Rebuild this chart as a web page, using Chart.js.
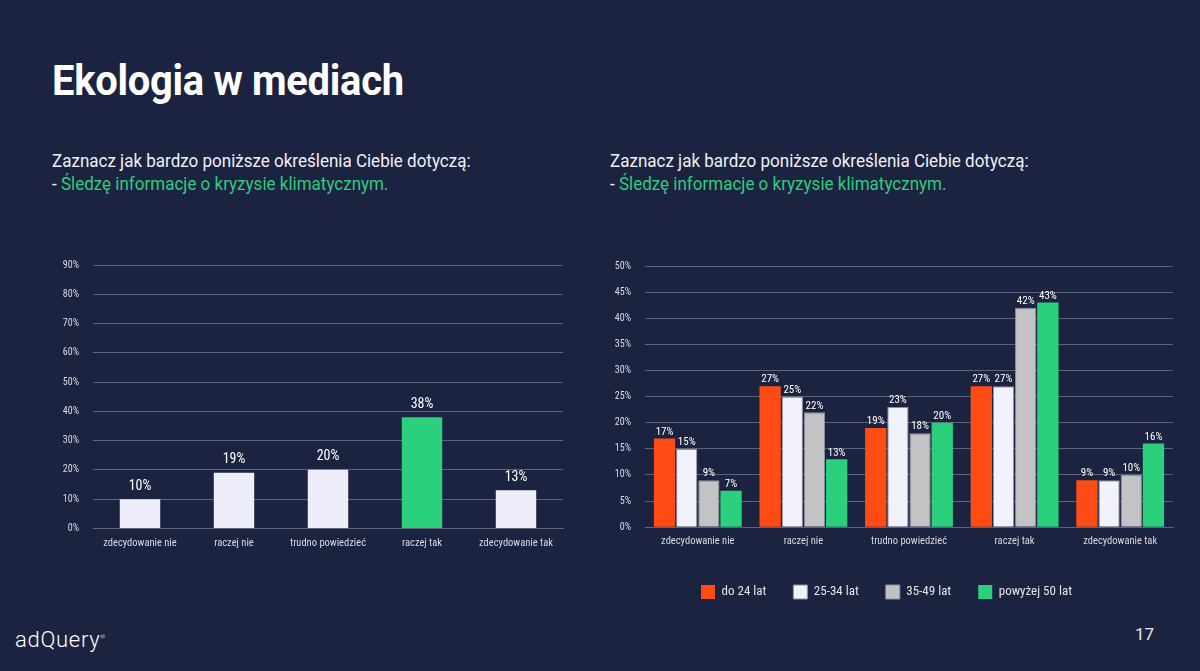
<!DOCTYPE html>
<html>
<head>
<meta charset="utf-8">
<script src="https://cdn.jsdelivr.net/npm/chart.js@4"></script>
<style>
  html, body { margin: 0; padding: 0; }
  body { width: 1200px; height: 671px; background: #1c2340; overflow: hidden; position: relative; font-family: "Roboto Condensed", "Liberation Sans Narrow", Roboto, sans-serif; color: #fff; }
  .title { position: absolute; left: 52px; top: 56px; font-family: Roboto, sans-serif; font-weight: 700; font-size: 42px; transform: scaleX(0.95); transform-origin: left top; letter-spacing: -0.3px; }
  .sub { position: absolute; top: 149px; font-family: Roboto, sans-serif; font-size: 18px; line-height: 23px; transform: scaleX(0.945); transform-origin: left top; color: #eef0f6; white-space: nowrap; }
  .sub .g { color: #2fcb7e; }
  .box { position: absolute; }
  .logo { position: absolute; left: 15px; top: 627px; font-family: Roboto, sans-serif; font-weight: 300; font-size: 22px; letter-spacing: 0.7px; }
  .logo sup { font-size: 6px; }
  .page { position: absolute; left: 1135px; top: 624px; font-family: Roboto, sans-serif; font-size: 17px; color: #e8e8ee; }
</style>
</head>
<body>
<div class="title">Ekologia w mediach</div>
<div class="sub" style="left:52px">Zaznacz jak bardzo poniższe określenia Ciebie dotyczą:<br>- <span class="g">Śledzę informacje o kryzysie klimatycznym.</span></div>
<div class="sub" style="left:610px">Zaznacz jak bardzo poniższe określenia Ciebie dotyczą:<br>- <span class="g">Śledzę informacje o kryzysie klimatycznym.</span></div>

<div class="box" style="left:40px; top:245px; width:535px; height:314px;"><canvas id="left"></canvas></div>
<div class="box" style="left:600px; top:246px; width:585px; height:363px;"><canvas id="right"></canvas></div>

<div class="logo">adQuery<sup>®</sup></div>
<div class="page">17</div>

<script>
const categories = ['zdecydowanie nie', 'raczej nie', 'trudno powiedzieć', 'raczej tak', 'zdecydowanie tak'];
const totalValues = [10, 19, 20, 38, 13];
const ageGroups = ['do 24 lat', '25-34 lat', '35-49 lat', 'powyżej 50 lat'];
const age24 = [17, 27, 19, 27, 9];
const age25to34 = [15, 25, 23, 27, 9];
const age35to49 = [9, 22, 18, 42, 10];
const age50plus = [7, 13, 20, 43, 16];
const leftTicks = [0, 10, 20, 30, 40, 50, 60, 70, 80, 90];
const rightTicks = [0, 5, 10, 15, 20, 25, 30, 35, 40, 45, 50];

const FONT = '"Roboto Condensed", "Liberation Sans Narrow", Roboto, sans-serif';

// draws the value above each bar
const valueLabels = {
    id: 'valueLabels',
    afterDatasetsDraw(chart, args, opts) {
        const ctx = chart.ctx;
        ctx.save();
        ctx.fillStyle = '#ffffff';
        ctx.font = opts.size + 'px ' + FONT;
        ctx.textAlign = 'center';
        ctx.textBaseline = 'bottom';
        chart.data.datasets.forEach((ds, i) => {
            chart.getDatasetMeta(i).data.forEach((bar, j) => {
                ctx.fillText(ds.data[j] + '%', bar.x, bar.y - opts.gap);
            });
        });
        ctx.restore();
    }
};

function yAxis(max, ticks, width) {
    return {
        min: 0, max: max,
        afterBuildTicks: axis => { axis.ticks = ticks.map(v => ({ value: v })); },
        afterFit: axis => { axis.width = width; },
        border: { display: false },
        grid: { color: '#5d6378', lineWidth: 1, drawTicks: false },
        ticks: { color: '#d8dae2', font: { family: FONT, size: 10 }, padding: 14, callback: v => v + '%' }
    };
}

function xAxis(pad) {
    return {
        border: { display: true, color: '#5d6378' },
        grid: { display: false, drawTicks: false },
        ticks: { color: '#d8dae2', font: { family: FONT, size: 10.5 }, padding: pad, maxRotation: 0 }
    };
}

new Chart(document.getElementById('left'), {
    type: 'bar',
    data: {
        labels: categories,
        datasets: [{
            data: totalValues,
            backgroundColor: totalValues.map((v, i) => i === 3 ? '#2bd07d' : '#eeeefa'),
            barPercentage: 0.43,
            categoryPercentage: 1
        }]
    },
    options: {
        responsive: true,
        maintainAspectRatio: false,
        animation: false,
        layout: { padding: { top: 2, right: 12, bottom: 0, left: 0 } },
        scales: { x: xAxis(9), y: yAxis(90, leftTicks, 53) },
        plugins: {
            legend: { display: false },
            tooltip: { enabled: false },
            valueLabels: { size: 14, gap: 6 }
        }
    },
    plugins: [valueLabels]
});

const seriesData = [age24, age25to34, age35to49, age50plus];
const seriesColors = ['#ff4b14', '#f2f2fa', '#c3c3c6', '#2bd07d'];

new Chart(document.getElementById('right'), {
    type: 'bar',
    data: {
        labels: categories,
        datasets: ageGroups.map((name, i) => ({
            label: name,
            data: seriesData[i],
            backgroundColor: seriesColors[i],
            borderColor: i === 0 ? '#ff4b14' : '#8f929e',
            borderWidth: i === 0 || i === 3 ? 0 : 1,
            barPercentage: 0.96,
            categoryPercentage: 0.84
        }))
    },
    options: {
        responsive: true,
        maintainAspectRatio: false,
        animation: false,
        layout: { padding: { top: 2, right: 12, bottom: 0, left: 0 } },
        scales: { x: xAxis(8), y: yAxis(50, rightTicks, 45) },
        plugins: {
            legend: {
                position: 'bottom',
                title: { display: true, text: ' ', font: { size: 1 }, padding: { top: 0, bottom: 1 } },
                labels: {
                    color: '#e2e4ea',
                    font: { family: FONT, size: 13 },
                    boxWidth: 14, boxHeight: 14, padding: 27,
                    useBorderRadius: false
                }
            },
            tooltip: { enabled: false },
            valueLabels: { size: 11, gap: 1 }
        }
    },
    plugins: [valueLabels]
});
</script>
</body>
</html>
